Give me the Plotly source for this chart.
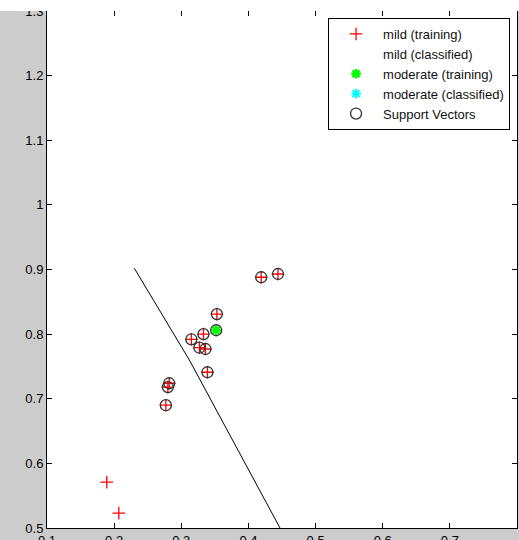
import plotly.graph_objects as go

# mild (training) points
mild_x = [0.189, 0.207, 0.419, 0.444, 0.353, 0.333, 0.315, 0.327, 0.336, 0.339, 0.282, 0.280, 0.277]
mild_y = [0.571, 0.523, 0.888, 0.893, 0.831, 0.800, 0.792, 0.779, 0.777, 0.741, 0.724, 0.718, 0.690]

# moderate (training) points
mod_x = [0.352]
mod_y = [0.806]

# support vectors
sv_x = [0.419, 0.444, 0.353, 0.352, 0.333, 0.315, 0.327, 0.336, 0.339, 0.282, 0.280, 0.277]
sv_y = [0.888, 0.893, 0.831, 0.806, 0.800, 0.792, 0.779, 0.777, 0.741, 0.724, 0.718, 0.690]

# decision boundary
line_x = [0.230, 0.312, 0.447]
line_y = [0.902, 0.760, 0.500]

x_ticks = [0.1, 0.2, 0.3, 0.4, 0.5, 0.6, 0.7, 0.8]
y_ticks = [0.5, 0.6, 0.7, 0.8, 0.9, 1.0, 1.1, 1.2, 1.3]
y_labels = ["0.5", "0.6", "0.7", "0.8", "0.9", "1", "1.1", "1.2", "1.3"]

font = "Liberation Sans, Arial, sans-serif"

fig = go.Figure()
fig.add_trace(go.Scatter(x=line_x, y=line_y, mode="lines",
                         line=dict(color="black", width=1), showlegend=False, hoverinfo="skip"))
fig.add_trace(go.Scatter(x=mild_x, y=mild_y, mode="markers", name="mild (training)",
                         marker=dict(symbol="cross-thin-open", size=9, color="red",
                                     line=dict(color="red", width=1.3))))
fig.add_trace(go.Scatter(x=[None], y=[None], mode="markers", name="mild (classified)",
                         marker=dict(symbol="circle", size=8, color="white", line=dict(width=0))))
fig.add_trace(go.Scatter(x=mod_x, y=mod_y, mode="markers", name="moderate (training)",
                         marker=dict(symbol="asterisk-open", size=8, color="#00ff00",
                                     line=dict(color="#00ff00", width=2.5))))
fig.add_trace(go.Scatter(x=[None], y=[None], mode="markers", name="moderate (classified)",
                         marker=dict(symbol="asterisk-open", size=8, color="#00ffff",
                                     line=dict(color="#00ffff", width=2))))
fig.add_trace(go.Scatter(x=sv_x, y=sv_y, mode="markers", name="Support Vectors",
                         marker=dict(symbol="circle-open", size=11, color="#333333",
                                     line=dict(color="#333333", width=1.3))))

fig.add_shape(type="rect", xref="paper", yref="paper", x0=-0.2, x1=1.1, y0=1.0, y1=1.05,
              fillcolor="white", line=dict(width=0), layer="above")

fig.update_layout(
    width=519, height=540,
    margin=dict(l=47, r=2, t=11, b=12),
    paper_bgcolor="#cccccc", plot_bgcolor="white",
    font=dict(family=font, size=13, color="black"),
    legend=dict(x=0.598, y=0.9865, xanchor="left", yanchor="top", itemwidth=44,
                bgcolor="white", bordercolor="black", borderwidth=1,
                font=dict(family=font, size=13, color="#111111")),
    xaxis=dict(range=[0.1, 0.8], tickvals=x_ticks, ticks="inside", ticklen=5,
               showgrid=False, zeroline=False, showline=True, linecolor="black",
               linewidth=1, mirror="ticks", tickcolor="black", tickformat=".1f",
               ticklabelstandoff=0, automargin=False),
    yaxis=dict(range=[0.5, 1.3], tickvals=y_ticks, ticktext=y_labels, ticks="inside", ticklen=5,
               showgrid=False, zeroline=False, showline=True, linecolor="black",
               linewidth=1, mirror="ticks", tickcolor="black", automargin=False),
)

fig.write_html("out.html", config={"displayModeBar": False},
               post_script="document.body.style.margin='0px';")
